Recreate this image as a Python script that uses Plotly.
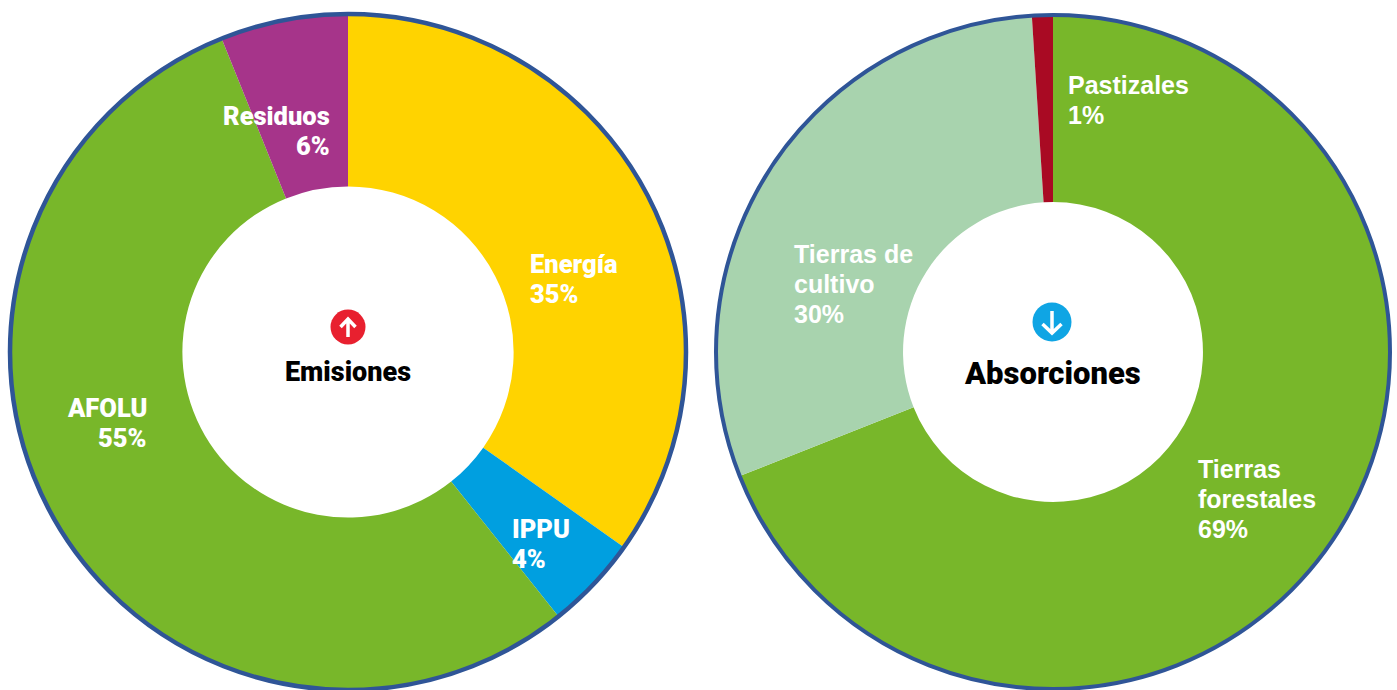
import plotly.graph_objects as go

W, H = 1397, 690

emis_labels = ["Energía", "IPPU", "AFOLU", "Residuos"]
emis_values = [34.8, 4.5, 54.6, 6.1]
emis_colors = ["#FFD300", "#009FE0", "#78B72A", "#A6348A"]
emis_texts = [["Energía", "35%"], ["IPPU", "4%"], ["AFOLU", "55%"], ["Residuos", "6%"]]

abs_labels = ["Tierras forestales", "Tierras de cultivo", "Pastizales"]
abs_values = [69, 30, 1]
abs_colors = ["#78B72A", "#A8D3AE", "#A90A23"]
abs_texts = [["Tierras", "forestales", "69%"], ["Tierras de", "cultivo", "30%"], ["Pastizales", "1%"]]

RING = "#2F5597"

def px(x): return x / W
def py(y): return 1 - y / H

def domain(cx, cy, r):
    return dict(x=[px(cx - r), px(cx + r)], y=[py(cy + r), py(cy - r)])

fig = go.Figure()
fig.add_trace(go.Pie(labels=emis_labels, values=emis_values, sort=False, direction="clockwise",
                     rotation=0, hole=0.49, textinfo="none", hoverinfo="label+percent",
                     marker=dict(colors=emis_colors, line=dict(width=0)),
                     domain=domain(348, 352, 338), showlegend=False))
fig.add_trace(go.Pie(labels=abs_labels, values=abs_values, sort=False, direction="clockwise",
                     rotation=0, hole=0.445, textinfo="none", hoverinfo="label+percent",
                     marker=dict(colors=abs_colors, line=dict(width=0)),
                     domain=domain(1053, 352, 337), showlegend=False))

def ring(cx, cy, r, width):
    fig.add_shape(type="circle", xref="paper", yref="paper",
                  x0=px(cx - r), x1=px(cx + r), y0=py(cy + r), y1=py(cy - r),
                  line=dict(color=RING, width=width), fillcolor="rgba(0,0,0,0)")

def dot(cx, cy, r, color):
    fig.add_shape(type="circle", xref="paper", yref="paper",
                  x0=px(cx - r), x1=px(cx + r), y0=py(cy + r), y1=py(cy - r),
                  line=dict(width=0), fillcolor=color)

def arrow(cx, y_tail, y_tip, y_wing, half):
    path = (f"M {px(cx)} {py(y_tail)} L {px(cx)} {py(y_tip)} "
            f"M {px(cx - half)} {py(y_wing)} L {px(cx)} {py(y_tip)} L {px(cx + half)} {py(y_wing)}")
    fig.add_shape(type="path", xref="paper", yref="paper", path=path,
                  line=dict(color="white", width=3.5), fillcolor="rgba(0,0,0,0)")

ring(348, 352, 338, 4.5)
ring(1053, 352, 337, 4)
dot(348, 327, 17.5, "#E8202F")
dot(1052, 322, 19.5, "#0FA5E4")
arrow(348, 337, 319, 327, 7.5)
arrow(1052, 311, 333, 324, 9.5)

def note(lines, x, y, size, family, color="white", anchor="left", weight=700, pitch=30):
    for i, line in enumerate(lines):
        fig.add_annotation(text=line, x=px(x), y=py(y + i * pitch), xref="paper", yref="paper",
                           xanchor=anchor, yanchor="middle", showarrow=False,
                           font=dict(family=family, size=size, color=color, weight=weight))

ROB = "Roboto"
ARI = "Liberation Sans"
note(emis_texts[0], 528, 264, 25.5, ROB, weight=900)
note(emis_texts[1], 510, 529, 25.5, ROB, weight=900)
note(emis_texts[2], 149, 408, 25.5, ROB, anchor="right", weight=900)
note(emis_texts[3], 332, 116, 25.5, ROB, anchor="right", weight=900)
note(abs_texts[0], 1196, 469, 25, ARI)
note(abs_texts[1], 792, 254, 25, ARI)
note(abs_texts[2], 1066, 85, 25, ARI)
note(["Emisiones"], 348, 372, 27, ROB, color="black", anchor="center", weight=900)
note(["Absorciones"], 1052, 373, 31, ROB, color="black", anchor="center", weight=900)

fig.update_layout(width=W, height=H, margin=dict(l=0, r=0, t=0, b=0),
                  paper_bgcolor="white", plot_bgcolor="white", showlegend=False)
fig.write_html("out.html", config=dict(displayModeBar=False),
               post_script="document.documentElement.style.overflow='hidden';document.body.style.margin='0';")
